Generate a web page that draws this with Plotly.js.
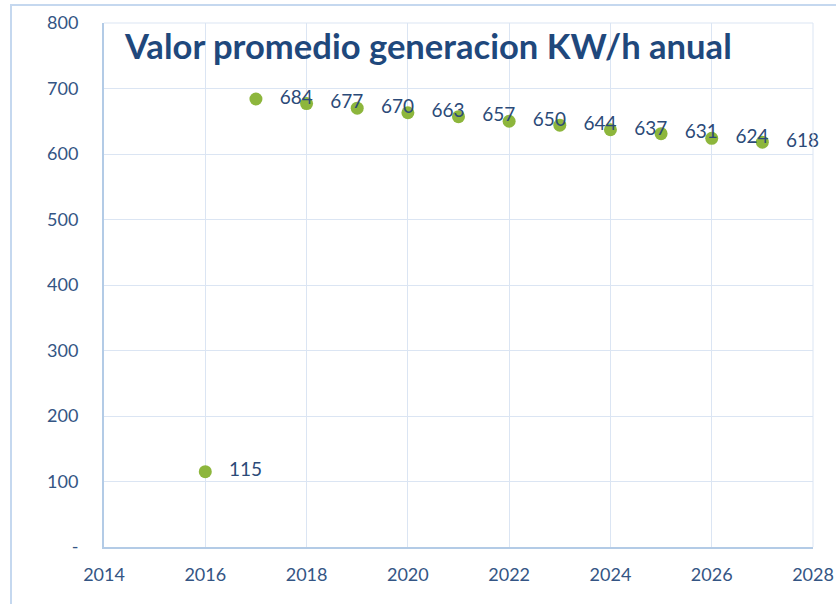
<!DOCTYPE html>
<html><head><meta charset="utf-8">
<script src="https://cdn.plot.ly/plotly-3.0.1.min.js"></script>
<style>html,body{margin:0;padding:0;background:#fff}#c{width:836px;height:604px}</style>
</head><body><div id="c"></div>
<script>
const years = [2016, 2017, 2018, 2019, 2020, 2021, 2022, 2023, 2024, 2025, 2026, 2027];
const values = [115, 684, 677, 670, 663, 657, 650, 644, 637, 631, 624, 618];
const labels = values.map(v => String(v));
const yTickVals = [0, 100, 200, 300, 400, 500, 600, 700, 800];
const yTickText = ['-', '100', '200', '300', '400', '500', '600', '700', '800'];
const xTickVals = [2014, 2016, 2018, 2020, 2022, 2024, 2026, 2028];

const font = 'Lato, "Open Sans", sans-serif';
const trace = {
  x: years, y: values, text: labels,
  type: 'scatter', mode: 'markers+text',
  textposition: 'middle right',
  texttemplate: '\u00a0\u00a0\u00a0%{text}',
  textfont: {family: font, size: 19, color: '#2b4a78'},
  marker: {size: 13, color: '#8db63c', line: {width: 0}},
  cliponaxis: false,
  hoverinfo: 'x+y'
};
const layout = {
  width: 836, height: 604,
  margin: {l: 104, r: 23, t: 23, b: 57},
  paper_bgcolor: '#ffffff', plot_bgcolor: '#ffffff',
  showlegend: false,
  title: {text: '<b>Valor promedio generacion KW/h anual</b>', font: {family: font, size: 34.6, color: '#1f487c'},
          x: 0.0296, xref: 'paper', xanchor: 'left', y: 1 - 47/604, yref: 'container', yanchor: 'middle'},
  xaxis: {range: [2014, 2028], tickvals: xTickVals, ticktext: xTickVals.map(String),
          showgrid: true, gridcolor: '#dbe5f3', gridwidth: 1,
          showline: true, linecolor: '#b3cbe6', linewidth: 2, zeroline: false,
          ticks: '', ticklen: 0, ticklabelstandoff: 10, tickfont: {family: font, size: 18, color: '#345584'}, automargin: false},
  yaxis: {range: [0, 800], tickvals: yTickVals, ticktext: yTickText,
          showgrid: true, gridcolor: '#dbe5f3', gridwidth: 1,
          showline: true, linecolor: '#b3cbe6', linewidth: 2, zeroline: false,
          ticks: '', ticklen: 0, ticklabelstandoff: 20, tickfont: {family: font, size: 18, color: '#345584'}, automargin: false},
  shapes: [
    {type: 'line', xref: 'paper', yref: 'paper', x0: 1, x1: 1, y0: 0, y1: 1, line: {color: '#dbe5f3', width: 1}},
    {type: 'line', xref: 'paper', yref: 'paper', x0: 0, x1: 1, y0: 1, y1: 1, line: {color: '#dbe5f3', width: 1}},
    {type: 'rect', xref: 'paper', yref: 'paper', x0: (11-104)/709, x1: 1.2, y0: -0.2, y1: 1 + 18/524,
     line: {color: '#c5d8ef', width: 2}, fillcolor: 'rgba(0,0,0,0)', layer: 'below'}
  ]
};
Plotly.newPlot('c', [trace], layout, {displayModeBar: false, staticPlot: true});
</script></body></html>
